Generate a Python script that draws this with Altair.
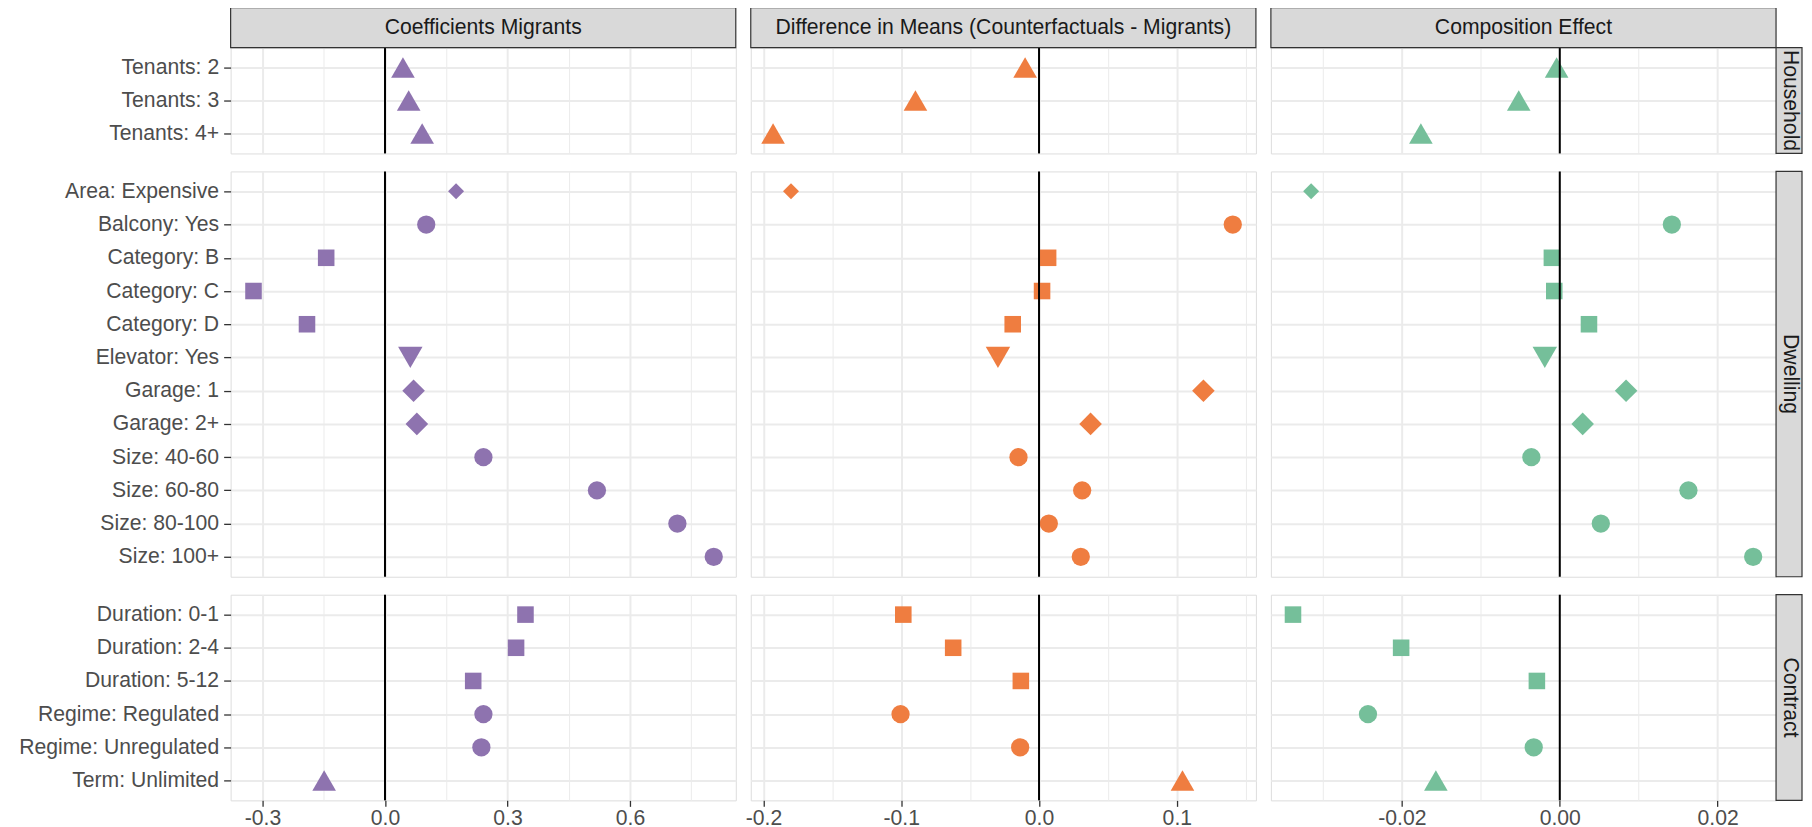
import altair as alt
import pandas as pd

# ---------------- data ----------------
panel_titles = ["Coefficients Migrants",
                "Difference in Means (Counterfactuals - Migrants)",
                "Composition Effect"]
group_titles = ["Household", "Dwelling", "Contract"]

household_labels = ["Tenants: 2", "Tenants: 3", "Tenants: 4+"]
dwelling_labels = ["Area: Expensive", "Balcony: Yes", "Category: B", "Category: C",
                   "Category: D", "Elevator: Yes", "Garage: 1", "Garage: 2+",
                   "Size: 40-60", "Size: 60-80", "Size: 80-100", "Size: 100+"]
contract_labels = ["Duration: 0-1", "Duration: 2-4", "Duration: 5-12",
                   "Regime: Regulated", "Regime: Unregulated", "Term: Unlimited"]

household_marker = ["triangle", "triangle", "triangle"]
dwelling_marker = ["small diamond", "circle", "square", "square", "square",
                   "down triangle", "diamond", "diamond", "circle", "circle",
                   "circle", "circle"]
contract_marker = ["square", "square", "square", "circle", "circle", "triangle"]

coef_household = [0.044, 0.058, 0.091]
coef_dwelling = [0.174, 0.101, -0.144, -0.322, -0.191, 0.062, 0.070, 0.078,
                 0.241, 0.519, 0.716, 0.805]
coef_contract = [0.344, 0.321, 0.216, 0.241, 0.236, -0.149]

diff_household = [-0.0101, -0.0897, -0.193]
diff_dwelling = [-0.180, 0.1406, 0.0066, 0.0022, -0.0191, -0.0298, 0.1193, 0.0374,
                 -0.0149, 0.0313, 0.0071, 0.0303]
diff_contract = [-0.0985, -0.0623, -0.0132, -0.1005, -0.0137, 0.1041]

comp_household = [-0.0004, -0.0052, -0.0176]
comp_dwelling = [-0.0315, 0.0142, -0.0010, -0.0007, 0.0037, -0.0019, 0.0084, 0.0029,
                 -0.0036, 0.0163, 0.0052, 0.0245]
comp_contract = [-0.0338, -0.0201, -0.0029, -0.0243, -0.0033, -0.0157]

x_ticks = [[-0.3, -0.15, 0.0, 0.15, 0.3, 0.45, 0.6, 0.75],
           [-0.2, -0.15, -0.1, -0.05, 0.0, 0.05, 0.1, 0.15],
           [-0.03, -0.02, -0.01, 0.0, 0.01, 0.02]]
major_step = [0.3, 0.1, 0.02]
tick_format = [".1f", ".1f", ".2f"]
x_domains = [[-0.378, 0.859], [-0.2092, 0.1574], [-0.0366, 0.0274]]

colors = ["#8E73AF", "#EF7D40", "#75BF9A"]

rows = [(household_labels, household_marker),
        (dwelling_labels, dwelling_marker),
        (contract_labels, contract_marker)]
values = [[coef_household, coef_dwelling, coef_contract],
          [diff_household, diff_dwelling, diff_contract],
          [comp_household, comp_dwelling, comp_contract]]

marker_domain = ["triangle", "down triangle", "circle", "square", "diamond", "small diamond"]
marker_shapes = ["triangle-up", "triangle-down", "circle", "square", "diamond", "diamond"]
marker_sizes = [560, 600, 335, 275, 512, 256]

# ---------------- layout ----------------
W = 506
HEIGHTS = [106, 406, 206]
STRIP = 40
RSTRIP = 26
FONT = "Liberation Sans"
FS = 21.2
BORDER = "#333333"


def panel(col, row):
    labels, markers = rows[row]
    df = pd.DataFrame({"label": labels, "value": values[col][row], "marker": markers})
    H = HEIGHTS[row]
    step = major_step[col]
    test = f"abs(datum.value / {step} - round(datum.value / {step})) < 0.001"
    grid_w = {"condition": {"test": test, "value": 2}, "value": 1}

    if row == 2:
        x_axis = alt.Axis(
            title=None, values=x_ticks[col], domain=False, grid=True,
            gridColor="#EBEBEB", gridWidth=grid_w,
            tickSize=6, tickColor=BORDER, tickWidth=1.3,
            tickOpacity={"condition": {"test": test, "value": 1}, "value": 0},
            labelExpr=f"({test}) ? replace(format(datum.value, '{tick_format[col]}'), '−', '-') : ''",
            labelPadding=1, labelFontSize=FS, labelFont=FONT, labelColor="#4D4D4D",
            labelFlush=False, labelOverlap=False)
    else:
        x_axis = alt.Axis(
            title=None, values=x_ticks[col], domain=False, grid=True,
            gridColor="#EBEBEB", gridWidth=grid_w, labels=False, ticks=False,
            minExtent=0, maxExtent=0)

    if col == 0:
        y_axis = alt.Axis(
            title=None, domain=False, grid=True, gridColor="#EBEBEB", gridWidth=2,
            tickSize=7, tickColor=BORDER, tickWidth=1.3, labelPadding=5,
            labelFontSize=FS, labelFont=FONT, labelColor="#4D4D4D", labelLimit=400,
            minExtent=222, maxExtent=222)
    else:
        y_axis = alt.Axis(
            title=None, domain=False, grid=True, gridColor="#EBEBEB", gridWidth=2,
            labels=False, ticks=False, minExtent=0, maxExtent=0)

    x = alt.X("value:Q", axis=x_axis,
              scale=alt.Scale(domain=x_domains[col], nice=False, zero=False))
    y = alt.Y("label:N", axis=y_axis, sort=labels,
              scale=alt.Scale(type="point", domain=labels, padding=0.6))

    points = alt.Chart(df).mark_point(filled=True, opacity=1, color=colors[col]).encode(
        x=x, y=y,
        shape=alt.Shape("marker:N", legend=None,
                        scale=alt.Scale(domain=marker_domain, range=marker_shapes)),
        size=alt.Size("marker:N", legend=None,
                      scale=alt.Scale(type="ordinal", domain=marker_domain,
                                      range=marker_sizes)),
    )
    zero = alt.Chart(pd.DataFrame({"value": [0.0]})).mark_rule(
        color="black", strokeWidth=2).encode(x=alt.X("value:Q"))

    layers = [points, zero]

    if row == 0:
        sdf = pd.DataFrame({"t": [panel_titles[col]]})
        layers.append(alt.Chart(sdf).mark_rect(
            fill="#D9D9D9", stroke=BORDER, strokeWidth=1.2).encode(
            x=alt.value(0), x2=alt.value(W), y=alt.value(-STRIP), y2=alt.value(0)))
        layers.append(alt.Chart(sdf).mark_text(
            font=FONT, fontSize=FS, color="#1A1A1A", align="center", baseline="middle").encode(
            text="t:N", x=alt.value(W / 2), y=alt.value(-STRIP / 2)))
    if col == 2:
        rdf = pd.DataFrame({"t": [group_titles[row]]})
        layers.append(alt.Chart(rdf).mark_rect(
            fill="#D9D9D9", stroke=BORDER, strokeWidth=1.2).encode(
            x=alt.value(W), x2=alt.value(W + RSTRIP), y=alt.value(0), y2=alt.value(H)))
        layers.append(alt.Chart(rdf).mark_text(
            font=FONT, fontSize=FS, color="#1A1A1A", align="center", baseline="middle",
            angle=90).encode(
            text="t:N", x=alt.value(W + 14), y=alt.value(H / 2)))

    return alt.layer(*layers).properties(width=W, height=H)


row_charts = []
for r in range(3):
    row_charts.append(
        alt.hconcat(*[panel(c, r) for c in range(3)], spacing=15, bounds="flush")
        .resolve_scale(x="independent", y="independent", shape="independent", size="independent")
    )

chart = (
    alt.vconcat(*row_charts, spacing=14)
    .resolve_scale(x="independent", y="independent", shape="independent", size="independent")
    .properties(padding={"left": 0, "top": -3, "right": 0, "bottom": 0}, background="white")
    .configure_view(stroke=BORDER, strokeWidth=1.2)
    .configure(font=FONT)
)

chart.save("out.html", embed_options={"renderer": "svg", "actions": False})
